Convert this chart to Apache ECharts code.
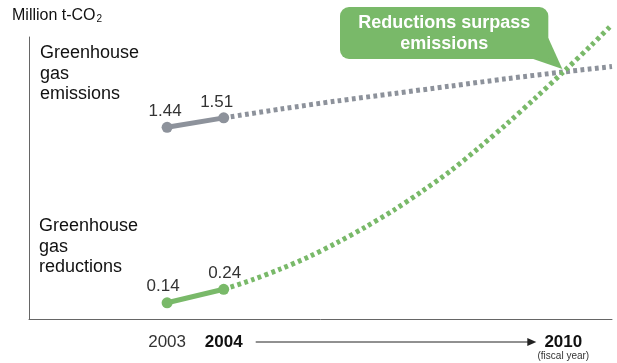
<!DOCTYPE html>
<html>
<head>
<meta charset="utf-8">
<script src="https://cdn.jsdelivr.net/npm/echarts@6/dist/echarts.min.js"></script>
<style>
  html, body { margin: 0; padding: 0; background: #fff; }
  #chart { width: 617px; height: 363px; }
</style>
</head>
<body>
<div id="chart"></div>
<script>
// Recorded results (fiscal years 2003–2004), million t-CO2
const actualYears = [2003, 2004];
const emissionsActual = [1.44, 1.51];
const reductionsActual = [0.14, 0.24];

// Outlook towards fiscal 2010
const emissionsOutlookYears = [2004, 2005, 2006, 2007, 2008, 2009, 2010, 2010.86];
const emissionsOutlook = [1.51, 1.575, 1.635, 1.69, 1.745, 1.80, 1.85, 1.89];
const reductionsOutlookYears = [2004, 2004.5, 2005, 2005.5, 2006, 2006.5, 2007, 2007.5,
  2008, 2008.5, 2009, 2009.5, 2010, 2010.5, 2010.86];
const reductionsOutlook = [0.24, 0.31, 0.39, 0.48, 0.585, 0.70, 0.825, 0.965,
  1.115, 1.285, 1.465, 1.655, 1.85, 2.05, 2.20];

// Year labels on the horizontal axis
const tickYears = [2003, 2004, 2010];
const boldYears = [2004, 2010];

const GRAY = '#8d929b';
const GREEN = '#79b969';
const FONT = '"Liberation Sans", Arial, Helvetica, sans-serif';

const zip = (xs, ys) => xs.map((x, i) => [x, ys[i]]);

const chart = echarts.init(document.getElementById('chart'));

function actualSeries(values, color, offsets) {
  return {
    type: 'line',
    z: 5,
    data: zip(actualYears, values).map((p, i) => ({
      value: p,
      label: { offset: offsets[i] }
    })),
    symbol: 'circle',
    symbolSize: 11,
    itemStyle: { color: color },
    lineStyle: { color: color, width: 5 },
    label: {
      show: true,
      position: 'top',
      distance: 2,
      fontFamily: FONT,
      fontSize: 17,
      color: '#333',
      formatter: p => p.value[1].toFixed(2)
    },
    animation: false
  };
}

function outlookSeries(years, values, color, z) {
  return {
    type: 'line',
    z: z,
    clip: false,
    smooth: 0.3,
    data: zip(years, values),
    symbol: 'none',
    lineStyle: { color: color, width: 5, type: [3.8, 3.4], cap: 'butt' },
    animation: false
  };
}

chart.setOption({
  animation: false,
  grid: { left: 29, right: 5, top: 37, bottom: 44 },
  xAxis: {
    type: 'value',
    min: 2000.56,
    max: 2010.86,
    splitLine: { show: false },
    axisTick: { show: false },
    axisLine: { show: true, lineStyle: { color: '#666', width: 1 } },
    axisLabel: {
      customValues: tickYears,
      margin: 14,
      fontFamily: FONT,
      fontSize: 17,
      color: '#333',
      formatter: v => {
        if (v === 2010) return '{b|' + v + '}\n{s|(fiscal year)}';
        return boldYears.includes(v) ? '{b|' + v + '}' : '{r|' + v + '}';
      },
      rich: {
        r: { fontFamily: FONT, fontSize: 17, color: '#333', lineHeight: 18 },
        b: { fontFamily: FONT, fontSize: 17, fontWeight: 'bold', color: '#111', lineHeight: 18 },
        s: { fontFamily: FONT, fontSize: 10, color: '#333', lineHeight: 11 }
      }
    }
  },
  yAxis: {
    type: 'value',
    min: 0.02,
    max: 2.109,
    splitLine: { show: false },
    axisTick: { show: false },
    axisLabel: { show: false },
    axisLine: { show: true, lineStyle: { color: '#666', width: 1 } }
  },
  series: [
    outlookSeries(emissionsOutlookYears, emissionsOutlook, GRAY, 2),
    outlookSeries(reductionsOutlookYears, reductionsOutlook, GREEN, 3),
    actualSeries(emissionsActual, GRAY, [[-2, 0], [-7, 0]]),
    actualSeries(reductionsActual, GREEN, [[-4, 0], [1, 0]])
  ]
});

// Annotations placed from the chart's own coordinate system
const px = (x, y) => chart.convertToPixel({ gridIndex: 0 }, [x, y]);
const axisY = px(2003, 0.02)[1];
const x2004 = px(2004, 0.02)[0];
const x2010 = px(2010, 0.02)[0];
const cross = px(2010, 1.85);
const arrowY = axisY + 23;

const textStyle = { fontFamily: FONT, fontSize: 18, fill: '#111', lineHeight: 20.5 };

chart.setOption({
  graphic: [
    {
      type: 'text', left: 12, top: 8,
      style: {
        text: 'Million t-CO{sub|2}',
        fontFamily: FONT, fontSize: 16, fill: '#111',
        rich: { sub: { fontFamily: FONT, fontSize: 10, fill: '#111', verticalAlign: 'bottom', padding: [6, 0, 0, 1] } }
      }
    },
    { type: 'text', left: 40, top: 43, style: Object.assign({ text: 'Greenhouse\ngas\nemissions' }, textStyle) },
    { type: 'text', left: 39, top: 216, style: Object.assign({ text: 'Greenhouse\ngas\nreductions' }, textStyle) },
    // Arrow from 2004 to 2010 along the year labels
    {
      type: 'line',
      shape: { x1: x2004 + 32, y1: arrowY, x2: x2010 - 34, y2: arrowY },
      style: { stroke: '#222', lineWidth: 1 }
    },
    {
      type: 'polygon',
      shape: { points: [[x2010 - 27, arrowY], [x2010 - 36, arrowY - 4], [x2010 - 36, arrowY + 4]] },
      style: { fill: '#222' }
    },
    // Callout
    {
      type: 'polygon',
      shape: { points: [[cross[0] - 33, cross[1] - 14], [cross[0] - 15, cross[1] - 34], [cross[0] - 1, cross[1] - 3]] },
      style: { fill: GREEN }
    },
    {
      type: 'rect',
      shape: { x: 340, y: 7, width: cross[0] - 15 - 340, height: 52, r: [9, 9, 0, 9] },
      style: { fill: GREEN }
    },
    {
      type: 'text',
      x: (340 + cross[0] - 15) / 2, y: 34,
      style: {
        text: 'Reductions surpass\nemissions',
        align: 'center', verticalAlign: 'middle',
        fontFamily: '"Liberation Sans Narrow", ' + FONT, fontWeight: 'bold', fontSize: 18,
        lineHeight: 21, fill: '#fff'
      }
    }
  ]
});
</script>
</body>
</html>
